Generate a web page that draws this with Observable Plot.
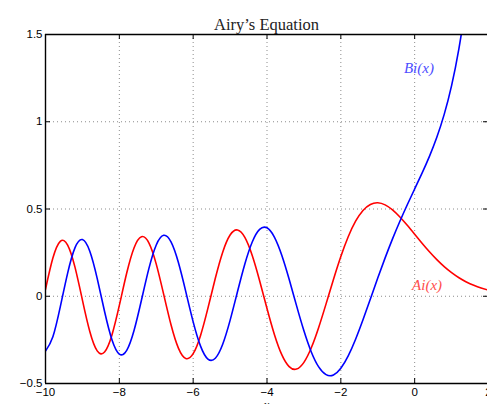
<!DOCTYPE html>
<html><head><meta charset="utf-8">
<script src="https://cdn.jsdelivr.net/npm/d3@7"></script>
<script src="https://cdn.jsdelivr.net/npm/@observablehq/plot@0.6"></script>
<style>html,body{margin:0;padding:0;overflow:hidden;background:#fff}</style>
</head><body><div id="chart"></div>
<script>
const xs = [-10,-9.8,-9.6,-9.4,-9.2,-9,-8.8,-8.6,-8.4,-8.2,-8,-7.8,-7.6,-7.4,-7.2,-7,-6.8,-6.6,-6.4,-6.2,-6,-5.8,-5.6,-5.4,-5.2,-5,-4.8,-4.6,-4.4,-4.2,-4,-3.8,-3.6,-3.4,-3.2,-3,-2.8,-2.6,-2.4,-2.2,-2,-1.8,-1.6,-1.4,-1.2,-1,-0.8,-0.6,-0.4,-0.2,0,0.2,0.4,0.6,0.8,1,1.2,1.4,1.6,1.8,2];
const aiValues = [0.0402,0.2189,0.3147,0.2935,0.1653,-0.0221,-0.2021,-0.3131,-0.3196,-0.2216,-0.0527,0.1329,0.2783,0.3413,0.3059,0.1843,0.0121,-0.1635,-0.2971,-0.3564,-0.3291,-0.2244,-0.0683,0.1029,0.2526,0.3508,0.3800,0.3375,0.2337,0.0892,-0.0703,-0.2188,-0.3348,-0.4032,-0.4175,-0.3788,-0.2952,-0.1787,-0.0436,0.0958,0.2274,0.3408,0.4299,0.4917,0.5262,0.5356,0.5236,0.4948,0.4542,0.4063,0.3550,0.3037,0.2547,0.2098,0.1698,0.1353,0.1061,0.0820,0.0625,0.0470,0.0349];
const biValues = [-0.3147,-0.2319,-0.0609,0.1329,0.2786,0.3249,0.2578,0.1024,-0.0875,-0.2490,-0.3313,-0.3103,-0.1949,-0.0216,0.1582,0.2938,0.3491,0.3116,0.1935,0.0268,-0.1467,-0.2859,-0.3602,-0.3553,-0.2750,-0.1384,0.0257,0.1851,0.3112,0.3835,0.3922,0.3391,0.2349,0.0971,-0.0539,-0.1981,-0.3193,-0.4051,-0.4493,-0.4509,-0.4123,-0.3414,-0.2460,-0.1347,-0.0158,0.1040,0.2198,0.3288,0.4300,0.5245,0.6149,0.7055,0.8018,0.9111,1.0424,1.2074,1.4211,1.7037,2.0825,2.5959,3.2981];
const xTicks = [-10,-8,-6,-4,-2,0,2];
const yTicks = [-0.5,0,0.5,1,1.5];
const title = "Airy\u2019s Equation";
const xLabel = "x";
const seriesLabels = ["Ai(x)", "Bi(x)"];

const rows = xs.map((x, i) => ({x, ai: aiValues[i], bi: biValues[i]}));
const xDom = [xTicks[0], xTicks[xTicks.length - 1]];
const yDom = [yTicks[0], yTicks[yTicks.length - 1]];
const xRange = [45, 488], yRange = [383, 34];
const tickPx = 5;
const tx = tickPx * (xDom[1] - xDom[0]) / (xRange[1] - xRange[0]);
const ty = tickPx * (yDom[1] - yDom[0]) / (yRange[0] - yRange[1]);
const innerX = xTicks.slice(1, -1), innerY = yTicks.slice(1, -1);
const grid = {stroke: "#8c8c8c", strokeOpacity: 1, strokeWidth: 1, strokeDasharray: "1,3"};
const fmt = d3.format("~g");

const plot = Plot.plot({
  width: 487, height: 404,
  marginLeft: 45, marginRight: 0, marginTop: 34, marginBottom: 21,
  x: {domain: xDom, range: xRange, label: null},
  y: {domain: yDom, range: yRange, label: null},
  style: {fontFamily: "Liberation Sans, Arial, sans-serif", fontSize: "11px", background: "#fff", color: "#000"},
  marks: [
    Plot.ruleX(innerX, {x: d => d, y1: yDom[0], y2: yDom[1], ...grid}),
    Plot.ruleY(innerY, {y: d => d, x1: xDom[0], x2: xDom[1], ...grid}),
    Plot.line(rows, {x: "x", y: "ai", stroke: "#ff0000", strokeWidth: 1.6, curve: "natural", clip: true}),
    Plot.line(rows, {x: "x", y: "bi", stroke: "#0000ff", strokeWidth: 1.6, curve: "natural", clip: true}),
    // box
    Plot.ruleX(xDom, {x: d => d, y1: yDom[0], y2: yDom[1], stroke: "#000", strokeWidth: 1.4}),
    Plot.ruleY(yDom, {y: d => d, x1: xDom[0], x2: xDom[1], stroke: "#000", strokeWidth: 1.4}),
    // inward ticks
    Plot.ruleX(xTicks, {x: d => d, y1: yDom[0], y2: yDom[0] + ty, stroke: "#000"}),
    Plot.ruleX(xTicks, {x: d => d, y1: yDom[1], y2: yDom[1] - ty, stroke: "#000"}),
    Plot.ruleY(yTicks, {y: d => d, x1: xDom[0], x2: xDom[0] + tx, stroke: "#000"}),
    Plot.ruleY(yTicks, {y: d => d, x1: xDom[1], x2: xDom[1] - tx, stroke: "#000"}),
    Plot.axisX(xTicks, {anchor: "bottom", tickSize: 0, tickPadding: 4, fontSize: 11.5, tickFormat: fmt, label: null}),
    Plot.axisY(yTicks, {anchor: "left", tickSize: 0, tickPadding: 3, fontSize: 11.5, tickFormat: fmt, label: null}),
    Plot.text([title], {frameAnchor: "top", dy: -16, fontFamily: "Liberation Serif, serif", fontSize: 16.5, fill: "#222"}),
    Plot.text([xLabel], {frameAnchor: "bottom", dy: 25, fontFamily: "Liberation Serif, serif", fontStyle: "italic", fontSize: 13, fill: "#222"}),
    Plot.text([seriesLabels[1]], {x: -0.29, y: 1.305, textAnchor: "start", fontFamily: "Liberation Serif, serif", fontStyle: "italic", fontSize: 15, fill: "#4d4dff"}),
    Plot.text([seriesLabels[0]], {x: -0.07, y: 0.062, textAnchor: "start", fontFamily: "Liberation Serif, serif", fontStyle: "italic", fontSize: 15, fill: "#ff4d4d"})
  ]
});
document.getElementById("chart").appendChild(plot);
</script>
</body></html>
